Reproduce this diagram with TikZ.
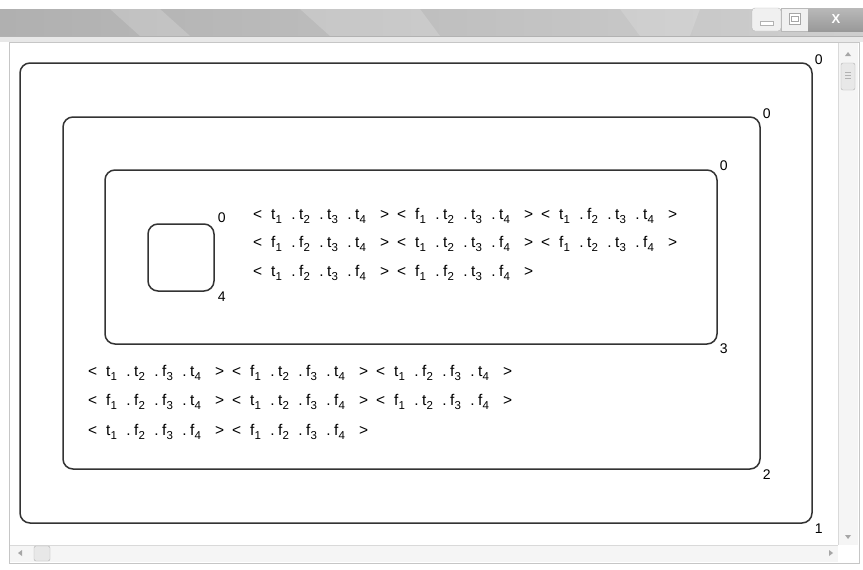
\documentclass[tikz,border=0pt]{standalone}
\usepackage{fontspec}
\setmainfont{Liberation Sans}
\usetikzlibrary{positioning}

% indice
\newcommand{\ix}[1]{\raisebox{-3.5pt}{\fontsize{11.5}{12}\selectfont #1}}
% one literal  t_i .  / f_i .
\newcommand{\lit}[2]{\makebox[28pt][l]{#1\ix{#2}\hfill.\hspace{3.5pt}}}
% one tuple < x1 . x2 . x3 . x4 >
\newcommand{\tup}[4]{\makebox[18pt][l]{<}\lit{#1}{1}\lit{#2}{2}\lit{#3}{3}\makebox[25pt][l]{#4\ix{4}}\makebox[17pt][l]{>}}

\tikzset{
  region/.style={draw=black!80, line width=1.5pt, rounded corners=10pt, inner sep=0pt},
  num/.style={font=\fontsize{14}{16}\selectfont, inner sep=0pt},
  tuples/.style={font=\fontsize{15.5}{17}\selectfont, inner sep=0pt, anchor=west},
}

\begin{document}
\begin{tikzpicture}[x=1pt, y=-1pt]
  \useasboundingbox (0,0) rectangle (863,570);
  \fill[white] (0,0) rectangle (863,570);

  % Fenetre
  \shade[left color=gray!62, right color=gray!38] (0,9) rectangle (863,36);
  \fill[white, opacity=0.18] (110,9) -- (160,9) -- (190,36) -- (140,36) -- cycle;
  \fill[white, opacity=0.18] (300,9) -- (420,9) -- (440,36) -- (330,36) -- cycle;
  \fill[white, opacity=0.15] (620,9) -- (700,9) -- (690,36) -- (640,36) -- cycle;
  \fill[gray!18] (0,36) rectangle (863,42);
  \draw[gray!60] (0,36.5) -- (863,36.5);
  \fill[white] (9,42) rectangle (859,563);
  \draw[gray!45] (9,42) rectangle (859,563);

  % Boutons
  \draw[gray!55, fill=gray!12, rounded corners=3pt] (752,8) rectangle (781,31);
  \draw[gray!55, fill=gray!12] (781,8) rectangle (808,31);
  \shade[top color=gray!55, bottom color=gray!80] (808,8) rectangle (863,31);
  \draw[gray!60, fill=white] (760,21) rectangle (773,25);
  \draw[gray!70, fill=white] (789,13) rectangle (800,24);
  \draw[gray!70] (791,16) rectangle (798,21);
  \node[font=\bfseries\fontsize{13}{13}\selectfont, text=white] (close) at (836,19) {X};

  % Barres de defilement
  \fill[gray!8] (838,43) rectangle (858,545);
  \draw[gray!30] (838,43) -- (838,545);
  \fill[gray!8] (10,545) rectangle (838,562);
  \draw[gray!30] (10,545) -- (838,545);
  \fill[gray!70] (845,56) -- (851,56) -- (848,52) -- cycle;
  \fill[gray!70] (845,535) -- (851,535) -- (848,539) -- cycle;
  \fill[gray!70] (22,550) -- (22,556) -- (18,553) -- cycle;
  \fill[gray!70] (829,550) -- (829,556) -- (833,553) -- cycle;
  \draw[gray!60, fill=gray!18, rounded corners=2pt] (841,63) rectangle (855,90);
  \draw[gray!60] (845,72) -- (851,72) (845,75) -- (851,75) (845,78) -- (851,78);
  \draw[gray!60, fill=gray!18, rounded corners=2pt] (34,546) rectangle (50,561);

  % Regions imbriquees
  \node[region, minimum width=792pt, minimum height=460pt] (b1) at (416,293) {};
  \node[region, minimum width=697pt, minimum height=352pt] (b2) at (411.5,293) {};
  \node[region, minimum width=612pt, minimum height=174pt] (b3) at (411,257) {};
  \node[region, minimum width=66pt, minimum height=67pt] (b4) at (181,257.5) {};

  % Etiquettes des coins
  \node[num, anchor=west] (b1n) at ([xshift=2pt, yshift=3pt]b1.north east) {0};
  \node[num, anchor=west] (b1s) at ([xshift=2pt, yshift=-5pt]b1.south east) {1};
  \node[num, anchor=west] (b2n) at ([xshift=2pt, yshift=3pt]b2.north east) {0};
  \node[num, anchor=west] (b2s) at ([xshift=2pt, yshift=-5pt]b2.south east) {2};
  \node[num, anchor=west] (b3n) at ([xshift=2pt, yshift=4pt]b3.north east) {0};
  \node[num, anchor=west] (b3s) at ([xshift=2pt, yshift=-4pt]b3.south east) {3};
  \node[num, anchor=west] (b4n) at ([xshift=3pt, yshift=6pt]b4.north east) {0};
  \node[num, anchor=west] (b4s) at ([xshift=3pt, yshift=-5pt]b4.south east) {4};

  % Tuples de la region 3
  \node[tuples] (r31) at (253,216) {\tup{t}{t}{t}{t}\tup{f}{t}{t}{t}\tup{t}{f}{t}{t}};
  \node[tuples] (r32) at (253,244) {\tup{f}{f}{t}{t}\tup{t}{t}{t}{f}\tup{f}{t}{t}{f}};
  \node[tuples] (r33) at (253,273) {\tup{t}{f}{t}{f}\tup{f}{f}{t}{f}};

  % Tuples de la region 2
  \node[tuples] (r21) at (88,373) {\tup{t}{t}{f}{t}\tup{f}{t}{f}{t}\tup{t}{f}{f}{t}};
  \node[tuples] (r22) at (88,402) {\tup{f}{f}{f}{t}\tup{t}{t}{f}{f}\tup{f}{t}{f}{f}};
  \node[tuples] (r23) at (88,432) {\tup{t}{f}{f}{f}\tup{f}{f}{f}{f}};
\end{tikzpicture}
\end{document}
